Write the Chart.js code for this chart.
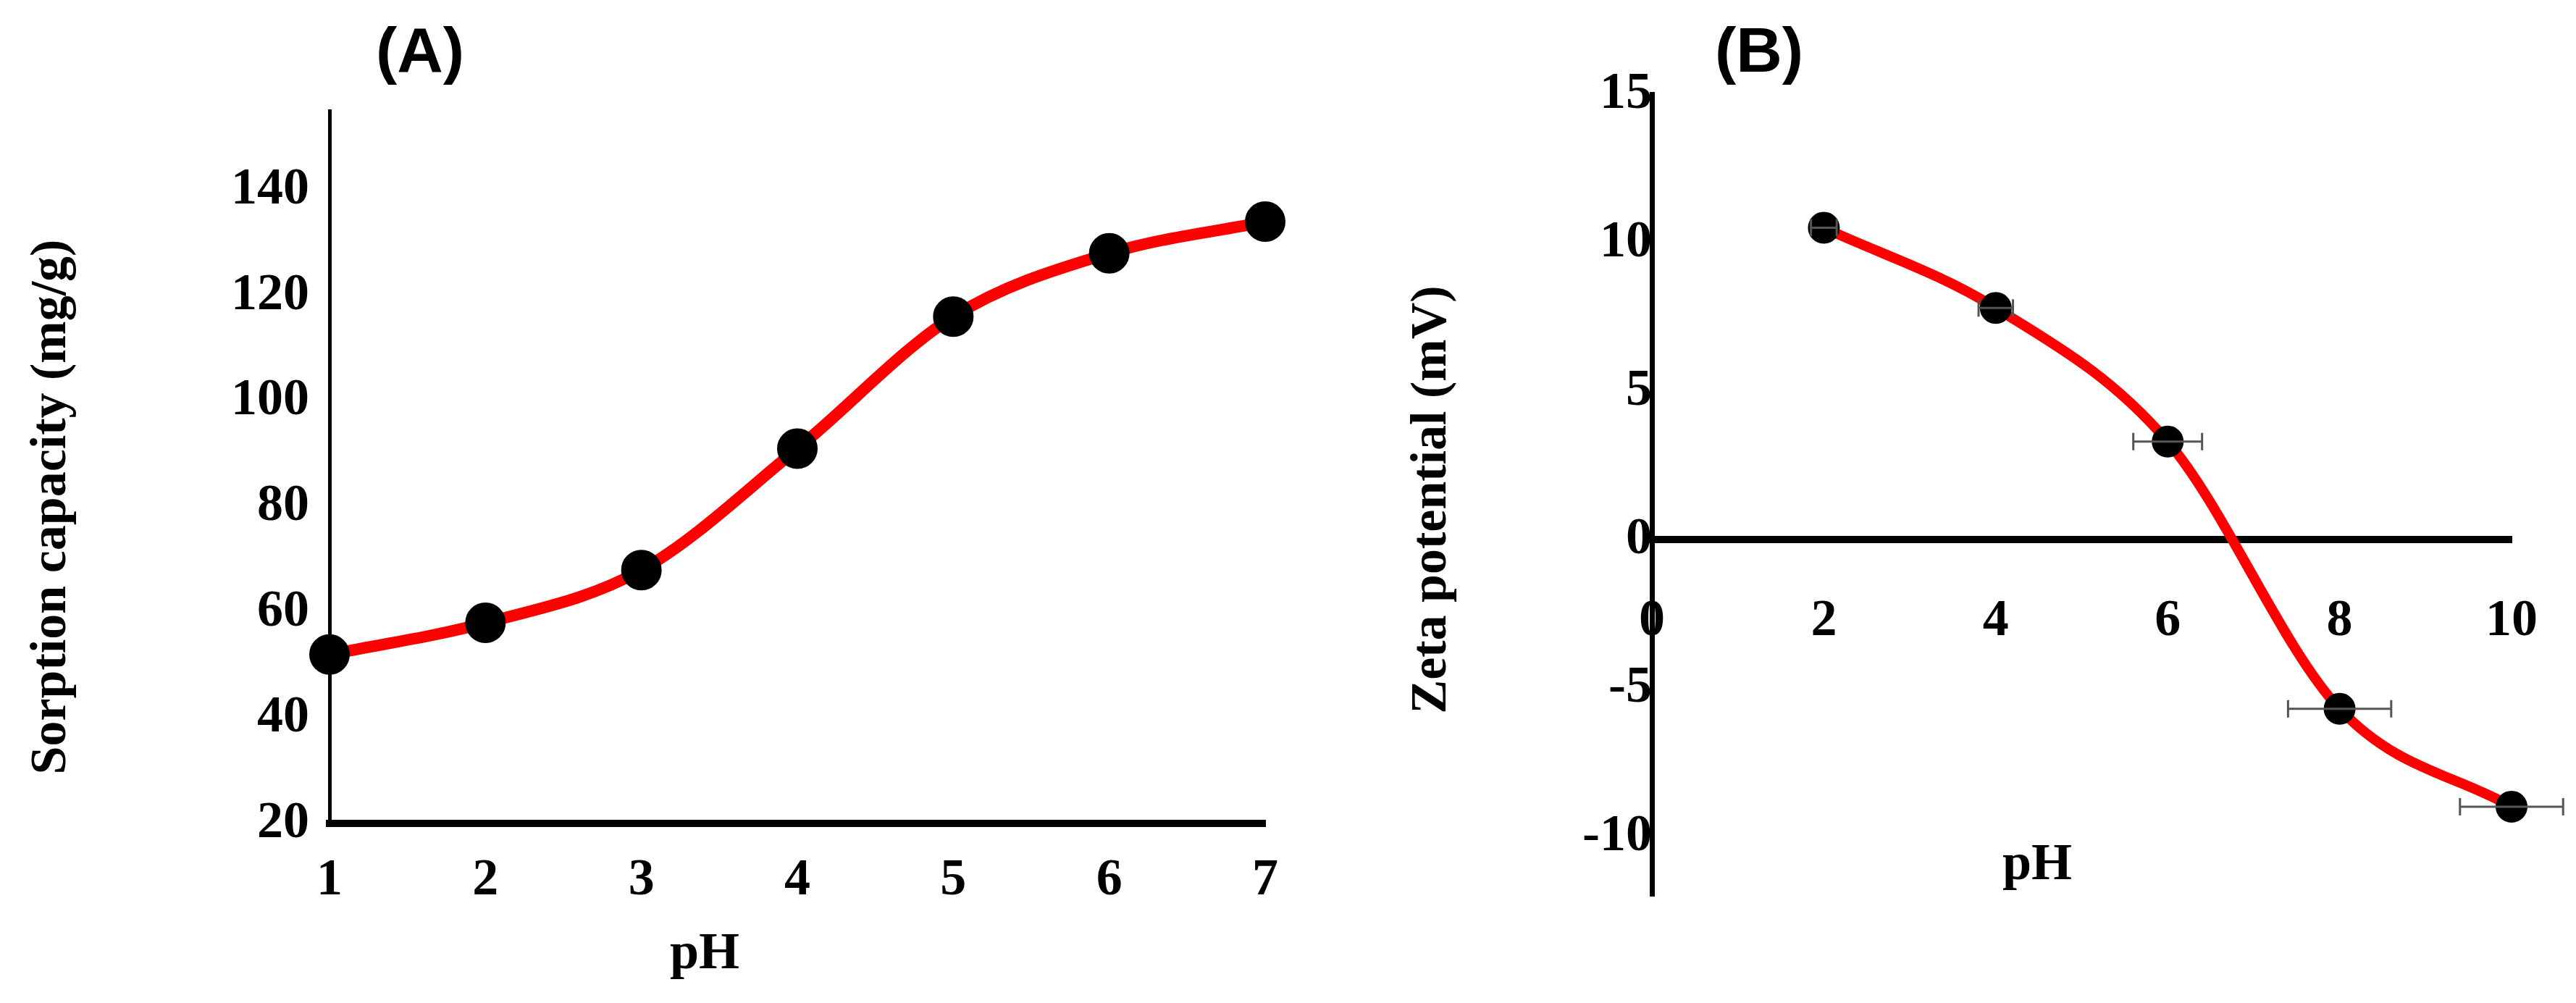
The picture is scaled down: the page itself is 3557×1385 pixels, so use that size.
<!DOCTYPE html>
<html><head><meta charset="utf-8">
<script src="https://cdn.jsdelivr.net/npm/chart.js@4"></script>
<style>
body{margin:0;background:#fff;width:3557px;height:1385px;position:relative;overflow:hidden}
#a{position:absolute;left:0;top:0}
#b{position:absolute;left:1800px;top:0}
</style></head><body>
<canvas id="a" width="1800" height="1385"></canvas>
<canvas id="b" width="1757" height="1385"></canvas>
<script>
const phA = [1, 2, 3, 4, 5, 6, 7];
const sorption = [52, 58, 68, 91, 116, 128, 134];
const ticksA = [20, 40, 60, 80, 100, 120, 140];
const phB = [2, 4, 6, 8, 10];
const zeta = [10.5, 7.8, 3.3, -5.7, -9];
const zetaErr = [0.15, 0.2, 0.4, 0.6, 0.6]; // horizontal error in pH
const ticksB = [-10, -5, 0, 5, 10, 15];

const F = '"Liberation Serif", "Times New Roman", serif';
Chart.defaults.animation = false;
Chart.defaults.responsive = false;
Chart.defaults.font.family = F;
Chart.defaults.font.weight = 'bold';
Chart.defaults.color = '#000';

// text labels drawn on the canvas
function labels(items) {
  return {
    id: 'labels',
    afterDraw(c) {
      const ctx = c.ctx;
      items.forEach(t => {
        ctx.save();
        ctx.translate(t.x, t.y);
        if (t.rot) ctx.rotate(t.rot);
        ctx.font = t.font;
        ctx.fillStyle = '#000';
        ctx.textAlign = 'center';
        ctx.textBaseline = 'middle';
        ctx.fillText(t.text, 0, 0);
        ctx.restore();
      });
    }
  };
}

new Chart(document.getElementById('a'), {
  type: 'line',
  data: { datasets: [{
    data: phA.map((x, i) => ({ x, y: sorption[i] })),
    borderColor: '#ff0000', borderWidth: 16, tension: 0.4, cubicInterpolationMode: 'monotone',
    pointRadius: 20, pointBackgroundColor: '#000', pointBorderColor: '#000'
  }]},
  options: {
    layout: { padding: { top: 153, right: 53 } },
    plugins: { legend: { display: false }, tooltip: { enabled: false } },
    clip: false,
    scales: {
      x: {
        type: 'linear', min: 1, max: 7,
        afterFit: s => { s.height = 248; },
        ticks: { stepSize: 1, font: { size: 72 }, padding: 16 },
        grid: { display: false, drawTicks: true, tickLength: 20, tickColor: '#000', tickWidth: 5 },
        border: { color: '#000', width: 10 }
      },
      y: {
        min: 20, max: 155,
        afterFit: s => { s.width = 455; },
        afterBuildTicks: s => { s.ticks = ticksA.map(v => ({ value: v })); },
        ticks: { font: { size: 72 }, padding: 12 },
        grid: { display: false, drawTicks: true, tickLength: 16, tickColor: '#000', tickWidth: 5 },
        border: { color: '#000', width: 5 }
      }
    }
  },
  plugins: [labels([
    { text: '(A)', x: 580, y: 75, font: 'bold 88px "Liberation Sans", Arial' },
    { text: 'pH', x: 973, y: 1318, font: 'bold 72px ' + F },
    { text: 'Sorption capacity (mg/g)', x: 72, y: 700, rot: -Math.PI / 2, font: 'bold 70px ' + F }
  ])]
});

const errBars = {
  id: 'errBars',
  afterDatasetsDraw(c) {
    const ctx = c.ctx, xs = c.scales.x, ys = c.scales.y;
    ctx.save();
    ctx.strokeStyle = '#555';
    ctx.lineWidth = 3;
    phB.forEach((x, i) => {
      const y = ys.getPixelForValue(zeta[i]);
      const x0 = xs.getPixelForValue(x - zetaErr[i]), x1 = xs.getPixelForValue(x + zetaErr[i]);
      ctx.beginPath();
      ctx.moveTo(x0, y); ctx.lineTo(x1, y);
      ctx.moveTo(x0, y - 12); ctx.lineTo(x0, y + 12);
      ctx.moveTo(x1, y - 12); ctx.lineTo(x1, y + 12);
      ctx.stroke();
    });
    ctx.restore();
  }
};

new Chart(document.getElementById('b'), {
  type: 'line',
  data: { datasets: [{
    data: phB.map((x, i) => ({ x, y: zeta[i] })),
    borderColor: '#ff0000', borderWidth: 14, tension: 0.4, cubicInterpolationMode: 'monotone',
    pointRadius: 15, pointBackgroundColor: '#000', pointBorderColor: '#000'
  }]},
  options: {
    layout: { padding: { top: 130, right: 89, left: 481, bottom: 148 } },
    plugins: { legend: { display: false }, tooltip: { enabled: false } },
    clip: false,
    scales: {
      x: {
        type: 'linear', min: 0, max: 10, position: { y: 0 },
        ticks: { stepSize: 2, font: { size: 72 }, padding: 50 },
        grid: { display: false, drawTicks: true, tickLength: 20, tickColor: '#000', tickWidth: 5 },
        border: { color: '#000', width: 10 }
      },
      y: {
        min: -12, max: 15, position: { x: 0 },
        afterBuildTicks: s => { s.ticks = ticksB.map(v => ({ value: v })); },
        ticks: { font: { size: 72 }, padding: 12 },
        grid: { display: false, drawTicks: true, tickLength: 16, tickColor: '#000', tickWidth: 5 },
        border: { color: '#000', width: 7 }
      }
    }
  },
  plugins: [errBars, labels([
    { text: '(B)', x: 629, y: 75, font: 'bold 88px "Liberation Sans", Arial' },
    { text: 'pH', x: 1013, y: 1195, font: 'bold 72px ' + F },
    { text: 'Zeta potential (mV)', x: 178, y: 690, rot: -Math.PI / 2, font: 'bold 70px ' + F }
  ])]
});
</script>
</body></html>
